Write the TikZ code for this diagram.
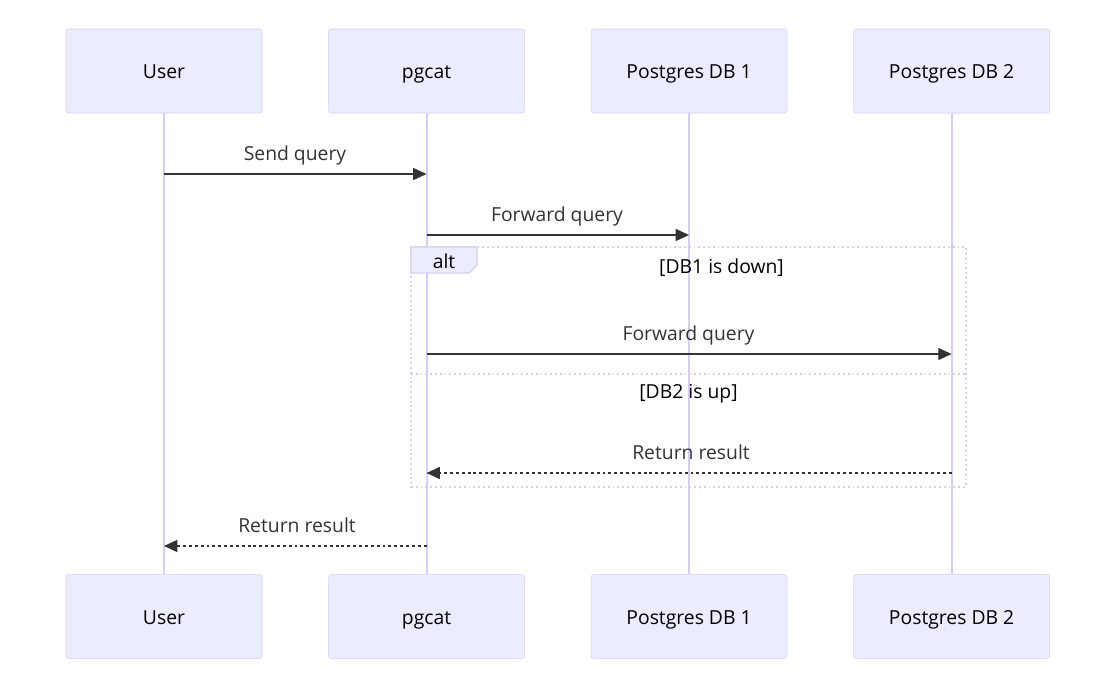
\documentclass[tikz,border=0pt]{standalone}
\usepackage{fontspec}
\setmainfont{Open Sans}
\usetikzlibrary{arrows.meta,positioning}

\definecolor{actorfill}{HTML}{ECECFF}
\definecolor{actorline}{HTML}{D9CCF4}
\definecolor{msgline}{HTML}{333333}

\tikzset{
  txt/.style={font=\fontsize{14.5}{17}\selectfont, text height=1.5ex, text depth=.4ex},
  actor/.style={draw=actorline, fill=actorfill, rounded corners=2pt,
    minimum width=147pt, minimum height=63pt,
    label={[txt, yshift=-3pt]center:#1}},
  life/.style={draw=actorline, line width=1.5pt},
  msg/.style={draw=msgline, line width=1pt, -{Triangle[length=10pt,width=9pt]}},
  reply/.style={msg, dash pattern=on 2.2pt off 2.2pt},
  lbl/.style={txt, text=msgline, yshift=-3pt},
  frame/.style={draw=actorline, line width=1.3pt, dash pattern=on 1.3pt off 2.3pt},
}

\begin{document}
\begin{tikzpicture}[x=0.75pt, y=-0.75pt, node distance=49.5pt]
  \useasboundingbox (0,0) rectangle (1116,689);

  % actors, top row
  \node[actor=User]          (user)  at (164,71)        {};
  \node[actor=pgcat]         (pgcat) [right=of user]    {};
  \node[actor=Postgres DB 1] (db1)   [right=of pgcat]   {};
  \node[actor=Postgres DB 2] (db2)   [right=of db1]     {};

  % actors, bottom row
  \node[actor=User]          (userB)  [below=345.75pt of user]  {};
  \node[actor=pgcat]         (pgcatB) [below=345.75pt of pgcat] {};
  \node[actor=Postgres DB 1] (db1B)   [below=345.75pt of db1]   {};
  \node[actor=Postgres DB 2] (db2B)   [below=345.75pt of db2]   {};

  % lifelines
  \foreach \a in {user,pgcat,db1,db2}
    \draw[life] (\a.south) -- (\a B.north);

  % alt frame
  \draw[frame] (411,247) rectangle (966,487);
  \draw[frame] (411,374) -- (966,374);
  \draw[draw=actorline, fill=actorfill, line width=1pt]
    (411,247) -- (477,247) -- (477,265) -- (469,273) -- (411,273) -- cycle;
  \node[lbl, text=black] (alt) at (444,261) {alt};
  \node[lbl, text=black] (cond1) at (721.5,266) {[DB1 is down]};
  \node[lbl, text=black] (cond2) at (688.5,391) {[DB2 is up]};

  % messages
  \draw[msg] (user |- 0,174) -- (pgcat |- 0,174);
  \node[lbl] (m1) at (295,153) {Send query};

  \draw[msg] (pgcat |- 0,235) -- (db1 |- 0,235);
  \node[lbl] (m2) at (557,214) {Forward query};

  \draw[msg] (pgcat |- 0,354) -- (db2 |- 0,354);
  \node[lbl] (m3) at (688.5,333) {Forward query};

  \draw[reply] (db2 |- 0,473) -- (pgcat |- 0,473);
  \node[lbl] (m4) at (691,452) {Return result};

  \draw[reply] (pgcat |- 0,546) -- (user |- 0,546);
  \node[lbl] (m5) at (297,525) {Return result};
\end{tikzpicture}
\end{document}
